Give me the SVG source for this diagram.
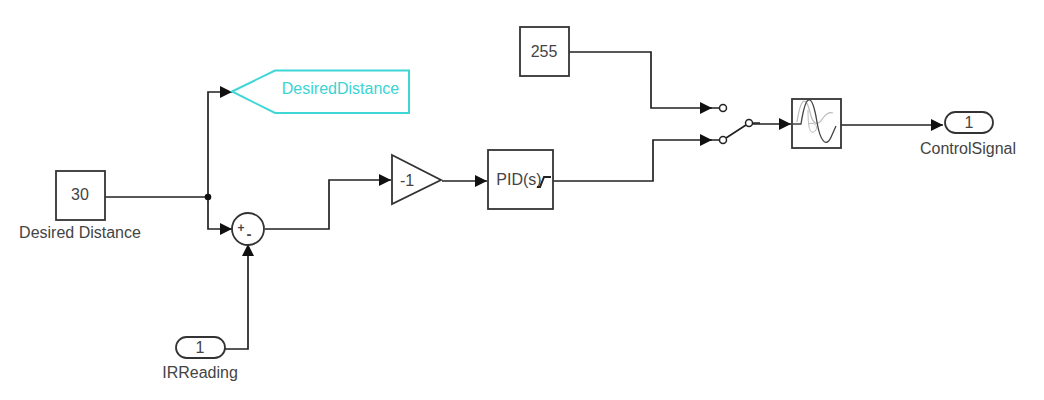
<svg xmlns="http://www.w3.org/2000/svg" width="1044" height="400" viewBox="0 0 1044 400">
<style>
.b{fill:#fff;stroke:#333;stroke-width:1.8}
.w{fill:none;stroke:#222;stroke-width:1.7}
.p{fill:#fff;stroke:#222;stroke-width:1.5}
text{font-family:"Liberation Sans",Arial,sans-serif;font-size:16px;fill:#444;text-anchor:middle}
</style>
<defs>
<marker id="a" markerUnits="userSpaceOnUse" markerWidth="13" markerHeight="13" refX="12" refY="6.500" orient="auto"><path d="M0 0.500L12 6.500L0 12.500z" fill="#111"/></marker>
</defs>
<rect width="1044" height="400" fill="#fff"/>
<g id="connectors">
<path class="w" d="M105 197H208V92H232" marker-end="url(#a)"/>
<path class="w" d="M208 197V229H232" marker-end="url(#a)"/>
<circle cx="208" cy="197" r="3.300" fill="#111"/>
<path class="w" d="M225 349H248V244" marker-end="url(#a)"/>
<path class="w" d="M265 229H329V180H391" marker-end="url(#a)"/>
<path class="w" d="M442 181H487" marker-end="url(#a)"/>
<path class="w" d="M553 181H653V140H712" marker-end="url(#a)"/>
<path class="w" d="M569 52H651V108H712" marker-end="url(#a)"/>
<path class="w" d="M752 124H791" marker-end="url(#a)"/>
<path class="w" d="M841 125H943" marker-end="url(#a)"/>
</g>
<g id="const255"><rect class="b" x="520" y="27" width="49" height="49"/><text x="544" y="57">255</text></g>
<g id="goto"><path d="M232 91.500L275 70.500H409V113H275Z" fill="#fff" stroke="#3fd6d6" stroke-width="2"/><text x="340.500" y="94" style="fill:#3ad4d4">DesiredDistance</text></g>
<g id="const30"><rect class="b" x="56" y="171" width="49" height="49"/><text x="80" y="200">30</text><text x="80" y="238">Desired Distance</text></g>
<g id="sum"><circle class="b" cx="248" cy="229" r="16"/><text x="241" y="232" style="font-size:12px;font-weight:bold">+</text><text x="249" y="239" style="font-size:15px;font-weight:bold">-</text></g>
<g id="irreading"><rect class="b" x="176" y="337" width="49" height="21" rx="10.500"/><text x="200" y="353">1</text><text x="200" y="378">IRReading</text></g>
<g id="gain"><path class="b" d="M392 155L441 180L392 204Z"/><text x="407" y="186">-1</text></g>
<g id="pid"><rect class="b" x="488" y="150" width="65" height="59"/><text x="519" y="185">PID(s)</text><path d="M537 187H540L544 177H551" fill="none" stroke="#222" stroke-width="2"/></g>
<g id="switch">
<path class="w" d="M711 108H720M711 140H720M726 138L746 125M752 123H760"/>
<circle class="p" cx="723" cy="108" r="3.500"/>
<circle class="p" cx="723" cy="140" r="3.500"/>
<circle class="p" cx="749" cy="123" r="3.500"/>
</g>
<g id="scope"><rect class="b" x="792" y="99" width="49" height="49"/>
<path d="M797 122C801 96 806 96 810 112C813 126 818 126 823 118C826 114 830 112 833 113" fill="none" stroke="#bbb" stroke-width="1.200"/>
<path d="M793 124H801C806 92 812 92 817 122C820 140 826 150 832 135L836 126" fill="none" stroke="#444" stroke-width="1.300"/>
<path d="M808 110C808 135 812 134 816 130C818 125 814 122 808 124" fill="none" stroke="#bbb" stroke-width="1"/></g>
<g id="out"><rect class="b" x="945" y="112" width="48" height="21" rx="10.500"/><text x="969" y="128">1</text><text x="968" y="154">ControlSignal</text></g>
</svg>
